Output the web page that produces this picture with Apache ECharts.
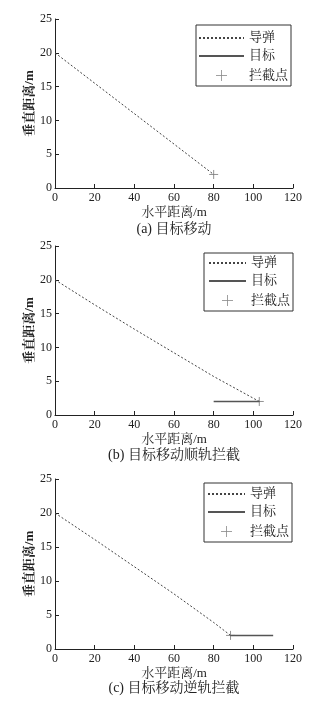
<!DOCTYPE html>
<html>
<head>
<meta charset="utf-8">
<script src="https://cdn.jsdelivr.net/npm/echarts@6/dist/echarts.min.js"></script>
<style>
  html, body { margin: 0; padding: 0; background: #fff; }
  #chart { width: 335px; height: 703px; }
</style>
</head>
<body>
<div id="chart"></div>
<script>
// (a) target moves, missile hits at x=80
const missileAX = [0, 20, 40, 60, 80];
const missileAY = [20, 15.5, 11, 6.5, 2];
const targetAX = [80];
const targetAY = [2];
const hitA = [80, 2];

// (b) along track
const missileBX = [0, 20, 40, 60, 80, 103];
const missileBY = [20, 16.3, 12.7, 9.2, 5.7, 2];
const targetBX = [80, 103];
const targetBY = [2, 2];
const hitB = [103, 2];

// (c) against track
const missileCX = [0, 20, 40, 60, 80, 88.5];
const missileCY = [20, 16.1, 12.1, 8.1, 3.9, 2];
const targetCX = [88.5, 110];
const targetCY = [2, 2];
const hitC = [88.5, 2];

const captions = ["(a) 目标移动", "(b) 目标移动顺轨拦截", "(c) 目标移动逆轨拦截"];
const legendNames = ["导弹", "目标", "拦截点"];
const xName = "水平距离/m";
const yName = "垂直距离/m";

const FONT = "'Liberation Serif', 'Noto Serif CJK SC', 'Noto Sans CJK SC', serif";
const PLUS = "path://M0,5L10,5M5,0L5,10";

const panels = [
  { mx: missileAX, my: missileAY, tx: targetAX, ty: targetAY, hit: hitA, top: 19, h: 169,
    lgTop: 25, lgLeft: 196, lgW: 45, lgPad: [6.5, 3, 2.5, 2], capY: 229 },
  { mx: missileBX, my: missileBY, tx: targetBX, ty: targetBY, hit: hitB, top: 246, h: 169,
    lgTop: 253, lgLeft: 204, lgW: 37, lgPad: [3.5, 3, 2.5, 4], capY: 455 },
  { mx: missileCX, my: missileCY, tx: targetCX, ty: targetCY, hit: hitC, top: 479, h: 170,
    lgTop: 483, lgLeft: 204, lgW: 37, lgPad: [4.5, 3, 2.5, 3], capY: 688 },
];

const pairs = (xs, ys) => xs.map((x, i) => [x, ys[i]]);

const grid = [], xAxis = [], yAxis = [], series = [], legend = [], graphic = [];
panels.forEach((p, i) => {
  grid.push({ left: 55, top: p.top, width: 238, height: p.h });
  xAxis.push({
    gridIndex: i, type: "value", min: 0, max: 120, interval: 20,
    name: xName, nameLocation: "middle", nameGap: 18, nameMoveOverlap: false,
    nameTextStyle: { fontFamily: FONT, fontSize: 13, color: "#222" },
    axisLine: { lineStyle: { color: "#222", width: 1 } },
    axisTick: { inside: true, length: 4, lineStyle: { color: "#222" } },
    axisLabel: { fontFamily: FONT, fontSize: 12, color: "#222", margin: 4 },
    splitLine: { show: false },
  });
  yAxis.push({
    gridIndex: i, type: "value", min: 0, max: 25, interval: 5,
    name: yName, nameLocation: "middle", nameGap: 19, nameMoveOverlap: false,
    nameTextStyle: { fontFamily: FONT, fontSize: 13, color: "#222", fontWeight: "bold" },
    axisLine: { show: true, lineStyle: { color: "#222", width: 1 } },
    axisTick: { show: true, inside: true, length: 4, lineStyle: { color: "#222" } },
    axisLabel: { fontFamily: FONT, fontSize: 12, color: "#222", margin: 3 },
    splitLine: { show: false },
  });
  series.push({
    name: legendNames[0], type: "line", xAxisIndex: i, yAxisIndex: i,
    data: pairs(p.mx, p.my), symbol: "none",
    lineStyle: { color: "#444", width: 1, type: [2, 2] },
    itemStyle: { color: "#444" },
  });
  series.push({
    name: legendNames[1], type: "line", xAxisIndex: i, yAxisIndex: i,
    data: pairs(p.tx, p.ty), symbol: "none",
    lineStyle: { color: "#555", width: 1.5 },
    itemStyle: { color: "#555" },
  });
  series.push({
    name: legendNames[2], type: "scatter", xAxisIndex: i, yAxisIndex: i,
    data: [p.hit], symbol: PLUS, symbolSize: 9,
    itemStyle: { color: "none", borderColor: "#777", borderWidth: 1 },
  });
  legend.push({
    data: [
      { name: legendNames[0], itemStyle: { opacity: 0 } },
      { name: legendNames[1], itemStyle: { opacity: 0 } },
      { name: legendNames[2], icon: PLUS, itemStyle: { color: "none", borderColor: "#888", borderWidth: 1 } },
    ],
    orient: "vertical", left: p.lgLeft, top: p.lgTop,
    padding: p.lgPad, itemGap: 5, itemWidth: p.lgW, itemHeight: 11,
    backgroundColor: "#fff", borderColor: "#333", borderWidth: 1, borderRadius: 0,
    textStyle: { fontFamily: FONT, fontSize: 13, color: "#222" },
    selectedMode: false,
  });
  graphic.push({
    type: "text", x: 174, y: p.capY,
    style: { text: captions[i], fontFamily: FONT, fontSize: 14, fill: "#222", align: "center", verticalAlign: "middle" },
  });
});

const chart = echarts.init(document.getElementById("chart"), null, { renderer: "canvas" });
chart.setOption({
  animation: false,
  backgroundColor: "#fff",
  grid, xAxis, yAxis, series, legend, graphic,
});
</script>
</body>
</html>
